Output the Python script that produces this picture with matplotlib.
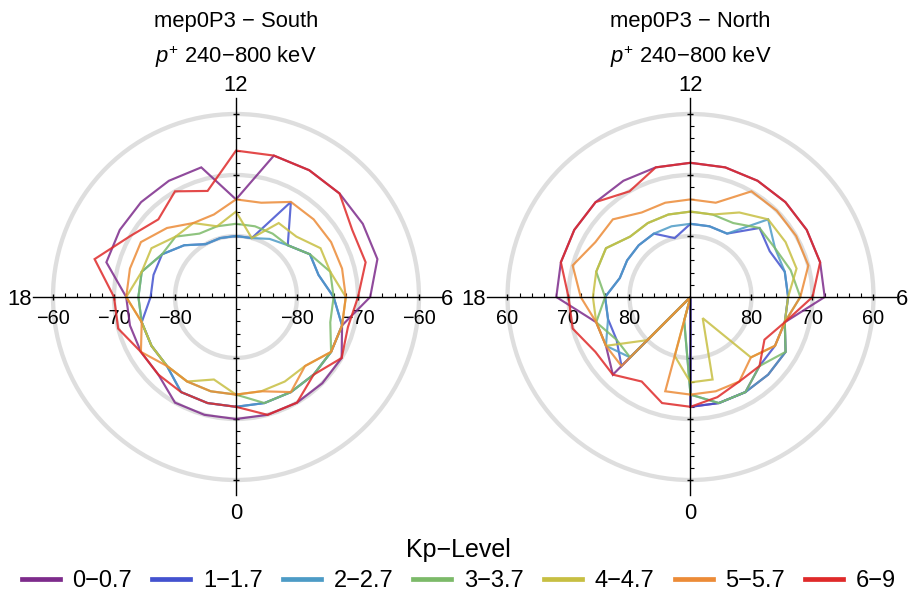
import numpy as np
import matplotlib
matplotlib.use('Agg')
import matplotlib.pyplot as plt
from matplotlib.lines import Line2D
from matplotlib.patches import Circle

plt.rcParams['font.family'] = ['Liberation Sans', 'DejaVu Sans']
plt.rcParams['mathtext.fontset'] = 'custom'
plt.rcParams['mathtext.it'] = 'Liberation Sans:italic'
plt.rcParams['mathtext.rm'] = 'Liberation Sans'
plt.rcParams['axes.unicode_minus'] = True

# ---------------- data ----------------
mlt_hours = list(range(24))          # magnetic local time bins 0..23
kp_labels = ['0−0.7', '1−1.7', '2−2.7', '3−3.7', '4−4.7', '5−5.7', '6−9']
kp_colors = ['#7d2b8b', '#4352cf', '#4d9bc6', '#7cba69', '#c7bf42', '#ec8b37', '#df2a2a']

# South hemisphere boundary latitudes (deg) per MLT hour
south_kp0 = [-70, -70, -70, -70, -70, -72, -68, -66, -66, -66, -66, -66, -74, -68, -68, -68, -68, -68, -72, -72, -72, -72, -70, -70]
south_kp1 = [-72, -72, -72, -72, -72, -72, -74, -76, -76, -78, -72, -80, -80, -80, -80, -78, -76, -76, -76, -74, -74, -74, -72, -72]
south_kp2 = [-72, -72, -72, -72, -72, -72, -74, -76, -76, -78, -79, -80, -80, -80, -80, -78, -76, -74, -74, -74, -74, -74, -72, -72]
south_kp3 = [-74, -72, -72, -72, -72, -74, -74, -74, -76, -78, -78, -78, -78, -78, -78, -76, -76, -74, -74, -74, -74, -74, -74, -74]
south_kp4 = [-74, -74, -74, -74, -72, -72, -72, -74, -74, -76, -76, -80, -76, -78, -76, -76, -74, -74, -72, -74, -74, -74, -74, -76]
south_kp5 = [-74, -74, -72, -74, -72, -72, -72, -72, -72, -72, -72, -74, -74, -76, -76, -74, -72, -72, -72, -74, -72, -74, -74, -74]
south_kp6 = [-72, -70, -70, -72, -70, -71, -70, -68, -68, -66, -66, -66, -66, -72, -70, -72, -70, -66, -70, -70, -72, -72, -72, -72]

# North hemisphere boundary latitudes (deg) per MLT hour
north_kp0 = [72, 72, 72, 72, 72, 74, 68, 68, 68, 68, 68, 68, 68, 68, 68, 68, 68, 68, 68, 74, 74, 72, 90, 90]
north_kp1 = [72, 72, 72, 74, 74, 74, 74, 74, 75, 74, 78, 78, 78, 80, 78, 78, 78, 78, 76, 76, 76, 74, 90, 90]
north_kp2 = [74, 72, 72, 72, 72, 74, 74, 74, 74, 72, 78, 78, 78, 78, 78, 78, 78, 78, 76, 76, 74, 76, 90, 86]
north_kp3 = [74, 72, 72, 74, 72, 74, 72, 73, 74, 74, 76, 76, 76, 76, 76, 76, 74, 74, 76, 74, 76, 76, 90, 86]
north_kp4 = [76, 76, 86, 76, 74, 74, 74, 72, 72, 72, 74, 76, 76, 76, 76, 76, 74, 74, 74, 74, 74, 80, 90, 80]
north_kp5 = [74, 74, 74, 76, 74, 74, 72, 70, 70, 70, 70, 74, 74, 74, 74, 72, 72, 70, 72, 74, 74, 74, 90, 74]
north_kp6 = [72, 73, 74, 74, 76, 74, 70, 68, 68, 68, 68, 68, 68, 68, 70, 68, 68, 68, 70, 70, 72, 72, 74, 72]

south_series = [south_kp0, south_kp1, south_kp2, south_kp3, south_kp4, south_kp5, south_kp6]
north_series = [north_kp0, north_kp1, north_kp2, north_kp3, north_kp4, north_kp5, north_kp6]

south_ticklabels = ['−60', '−70', '−80', '−80', '−70', '−60']
north_ticklabels = ['60', '70', '80', '80', '70', '60']

# ---------------- figure ----------------
W, H = 914, 599
fig = plt.figure(figsize=(W / 100, H / 100), dpi=100)

PX_PER_DEG = 6.1
LIM = 36.0
size_px = 2 * LIM * PX_PER_DEG
cy = 297


def make_axes(cx):
    left = (cx - size_px / 2) / W
    bottom = (H - (cy + size_px / 2)) / H
    return fig.add_axes([left, bottom, size_px / W, size_px / H])


def draw_panel(ax, series, ticklabels):
    ax.set_xlim(-LIM, LIM)
    ax.set_ylim(-LIM, LIM)
    ax.set_facecolor('none')
    for r in (10, 20, 30):
        ax.add_patch(Circle((0, 0), r, fill=False, ec='#dedede', lw=3.1, zorder=1))
    th = np.radians((np.array(mlt_hours + [mlt_hours[0]]) - 6) * 15.0)
    for lats, col in zip(series, kp_colors):
        lat = np.array(lats + [lats[0]], dtype=float)
        r = 90.0 - np.abs(lat)
        ax.plot(r * np.cos(th), r * np.sin(th), color=col, lw=1.55, alpha=0.85,
                solid_joinstyle='miter', zorder=3)
    for s in ('top', 'right'):
        ax.spines[s].set_visible(False)
    ax.spines['left'].set_position(('data', 0))
    ax.spines['bottom'].set_position(('data', 0))
    ax.spines['bottom'].set_bounds(-33.3, 33.7)
    ax.spines['left'].set_bounds(-32.4, 32.6)
    for s in ('left', 'bottom'):
        ax.spines[s].set_linewidth(1.0)
        ax.spines[s].set_zorder(4)
    major = [-30, -20, -10, 10, 20, 30]
    minor = [v for v in range(-28, 29, 2) if v % 10 != 0]
    ax.set_xticks(major)
    ax.set_xticklabels(ticklabels, fontsize=14.3)
    ax.set_xticks(minor, minor=True)
    ax.set_yticks(major)
    ax.set_yticklabels([])
    ax.set_yticks(minor, minor=True)
    ax.tick_params(which='major', direction='inout', length=5, width=1.0, pad=6)
    ax.tick_params(which='minor', direction='in', length=2.6, width=0.8)
    # clock labels
    ax.text(0, 33.75, '12', ha='center', va='baseline', fontsize=15.8)
    ax.text(0, -36.4, '0', ha='center', va='baseline', fontsize=15.8)
    ax.text(-33.5, -1.3, '18', ha='right', va='baseline', fontsize=15.8)
    ax.text(33.6, -1.3, '6', ha='left', va='baseline', fontsize=15.8, clip_on=False)
    return ax


ax1 = make_axes(236)
draw_panel(ax1, south_series, south_ticklabels)
ax2 = make_axes(690.5)
draw_panel(ax2, north_series, north_ticklabels)

for cx, hemi in ((236, 'South'), (690.5, 'North')):
    fig.text(cx / W, 1 - 27 / H, 'mep0P3 − ' + hemi, ha='center', va='baseline', fontsize=15.8)
    fig.text(cx / W, 1 - 63.5 / H, r'$p^{+}$ 240−800 keV', ha='center', va='baseline', fontsize=15.8)

handles = [Line2D([], [], color=c, lw=3.4) for c in kp_colors]
leg = fig.legend(handles, kp_labels, loc='upper center', bbox_to_anchor=(0.502, 1 - 538 / H),
                 ncol=7, frameon=False, fontsize=17, title='Kp−Level', title_fontsize=18,
                 handlelength=1.61, handletextpad=0.54, columnspacing=0.85,
                 borderpad=0.0, labelspacing=0.35, borderaxespad=0.0)

fig.savefig('out.png', dpi=100)
